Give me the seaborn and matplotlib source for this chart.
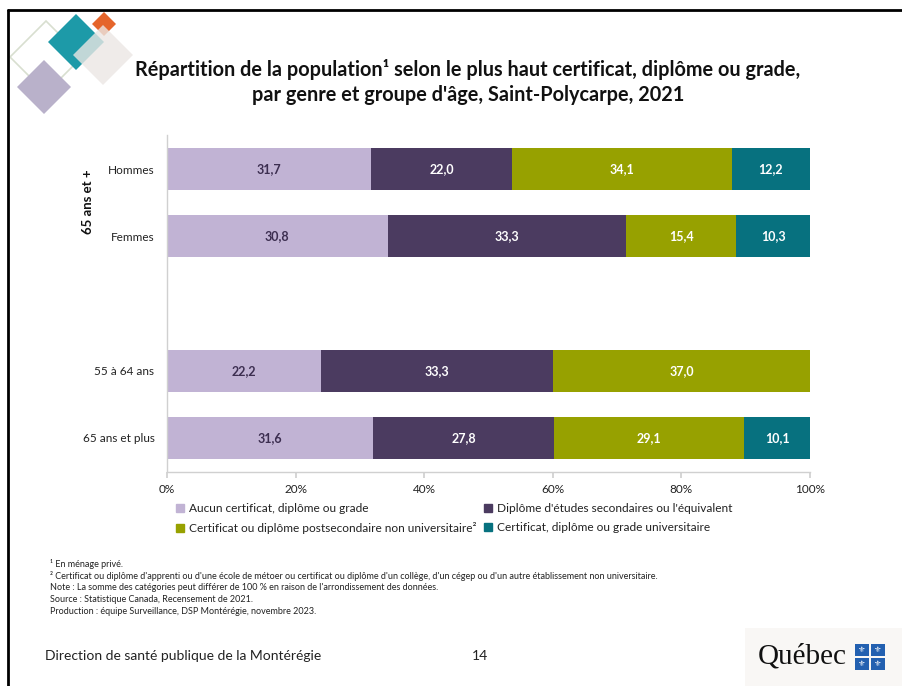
import matplotlib
matplotlib.use("Agg")
import matplotlib.pyplot as plt
import matplotlib.patches as mpatches
import numpy as np
import pandas as pd
import seaborn as sns

# ---- data ----
rows = ["Hommes", "Femmes", " ", "55 à 64 ans", "65 ans et plus"]
categories = [
    "Aucun certificat, diplôme ou grade",
    "Diplôme d'études secondaires ou l'équivalent",
    "Certificat ou diplôme postsecondaire non universitaire²",
    "Certificat, diplôme ou grade universitaire",
]
aucun = [31.7, 30.8, np.nan, 22.2, 31.6]
secondaire = [22.0, 33.3, np.nan, 33.3, 27.8]
postsec = [34.1, 15.4, np.nan, 37.0, 29.1]
universitaire = [12.2, 10.3, np.nan, np.nan, 10.1]
xticks = [0, 20, 40, 60, 80, 100]
xticklabels = ["0%", "20%", "40%", "60%", "80%", "100%"]

colors = ["#c1b3d4", "#4b3b60", "#97a100", "#07717f"]
label_colors = ["#3c2e50", "white", "white", "white"]

sns.set_theme(style="white")
plt.rcParams["font.family"] = ["Lato", "DejaVu Sans"]

fig = plt.figure(figsize=(9.02, 6.86), dpi=100)
W, H = 902, 686
ax = fig.add_axes([167 / W, 1 - 471.5 / H, 643 / W, 336 / H])

vals = np.array([aucun, secondaire, postsec, universitaire], dtype=float)  # cat x row
totals = np.nansum(vals, axis=0)
totals[totals == 0] = np.nan
pct = np.nan_to_num(vals) / totals * 100
cum = np.cumsum(pct, axis=0)

# draw layers from back (full cumulative) to front
for k in range(3, -1, -1):
    df = pd.DataFrame({"row": rows, "cum": cum[k]})
    df = df[~np.isnan(vals[k])]
    df = df[df["row"] != " "]
    sns.barplot(data=df, x="cum", y="row", order=rows, color=colors[k],
                width=0.63, orient="h", ax=ax, saturation=1, edgecolor="none")

# value labels
for k in range(4):
    for i, r in enumerate(rows):
        v = vals[k][i]
        if np.isnan(v):
            continue
        center = cum[k][i] - pct[k][i] / 2
        ax.text(center, i, f"{v:.1f}".replace(".", ","), ha="center", va="center",
                fontsize=9, fontweight="bold", color=label_colors[k])

ax.set_xlim(0, 100)
ax.set_ylim(len(rows) - 0.5, -0.5)
ax.set_xticks(xticks)
ax.set_xticklabels(xticklabels, fontsize=8.5, color="#222222")
ax.set_yticks(range(len(rows)))
ax.set_yticklabels(rows, fontsize=8.5, color="#222222")
ax.set_xlabel("")
ax.set_ylabel("")
for s in ["top", "right"]:
    ax.spines[s].set_visible(False)
for s in ["left", "bottom"]:
    ax.spines[s].set_color("#d0d0d0")
    ax.spines[s].set_linewidth(1)
ax.tick_params(axis="x", length=4, color="#d0d0d0", pad=5, bottom=True)
ax.tick_params(axis="y", length=0, pad=9)
ax.grid(False)

# group label
fig.text(88 / W, 1 - 202 / H, "65 ans et +", rotation=90, ha="center", va="center",
         fontsize=9.5, fontweight="bold", color="#111111")

# title
fig.text(468 / W, 1 - 70 / H,
         "Répartition de la population¹ selon le plus haut certificat, diplôme ou grade,",
         ha="center", va="center", fontsize=14.3, fontweight="bold", color="#111111")
fig.text(468 / W, 1 - 95 / H, "par genre et groupe d'âge, Saint-Polycarpe, 2021",
         ha="center", va="center", fontsize=14.3, fontweight="bold", color="#111111")

# legend (row-wise order)
handles = [mpatches.Patch(color=c) for c in colors]
order_idx = [0, 2, 1, 3]
leg = fig.legend([handles[i] for i in order_idx], [categories[i] for i in order_idx],
                 ncol=2, loc="upper left", bbox_to_anchor=(176 / W, 1 - 503 / H),
                 frameon=False, fontsize=8.6, handlelength=0.7, handleheight=0.7,
                 handletextpad=0.4, columnspacing=0.6, labelspacing=0.7,
                 borderaxespad=0, borderpad=0)
for t in leg.get_texts():
    t.set_color("#222222")

# footnotes
notes = [
    "¹ En ménage privé.",
    "² Certificat ou diplôme d'apprenti ou d'une école de métoer ou certificat ou diplôme d'un collège, d'un cégep ou d'un autre établissement non universitaire.",
    "Note : La somme des catégories peut différer de 100 % en raison de l'arrondissement des données.",
    "Source : Statistique Canada, Recensement de 2021.",
    "Production : équipe Surveillance, DSP Montérégie, novembre 2023.",
]
for j, t in enumerate(notes):
    fig.text(50 / W, 1 - (564 + j * 12) / H, t, ha="left", va="center",
             fontsize=6.5, color="#222222")

# footer
fig.text(45 / W, 1 - 656 / H, "Direction de santé publique de la Montérégie",
         ha="left", va="center", fontsize=10, color="#222222")
fig.text(480 / W, 1 - 656 / H, "14", ha="center", va="center", fontsize=10, color="#222222")

# Québec logo
fig.patches.append(mpatches.Rectangle((745 / W, 0), 157 / W, 58 / H, transform=fig.transFigure,
                                      facecolor="#f9f7f5", edgecolor="none", zorder=0))
fig.text(802 / W, 1 - 657 / H, "Québec", ha="center", va="center", fontsize=21,
         family=["Liberation Serif", "DejaVu Serif"], color="#111111")
for (cx, cy) in [(862, 650), (878, 650), (862, 664), (878, 664)]:
    fig.patches.append(mpatches.Rectangle(((cx - 7) / W, 1 - (cy + 6) / H), 14 / W, 12 / H,
                                          transform=fig.transFigure, facecolor="#2360b0",
                                          edgecolor="none", zorder=2))
    fig.text(cx / W, 1 - cy / H, "⚜", ha="center", va="center", fontsize=6,
             color="white", zorder=3, family=["DejaVu Sans"])

# decorative diamonds (top-left)
def diamond(cx, cy, r, fc, ec="none", alpha=1.0, lw=1.0, z=1):
    pts = [((cx) / W, 1 - (cy - r) / H), ((cx + r) / W, 1 - cy / H),
           (cx / W, 1 - (cy + r) / H), ((cx - r) / W, 1 - cy / H)]
    fig.patches.append(mpatches.Polygon(pts, closed=True, transform=fig.transFigure,
                                        facecolor=fc, edgecolor=ec, alpha=alpha,
                                        linewidth=lw, zorder=z))

diamond(46, 57, 36, "none", ec="#d8dfd0", lw=1.2, z=1)
diamond(44, 87, 27, "#b9b1ca", z=2)
diamond(76, 42, 28, "#1d9aa8", z=3)
diamond(104, 24, 12, "#e5652b", z=3)
diamond(103, 55, 30, "#ebe7e4", alpha=0.8, z=4)

# slide frame
fig.add_artist(plt.Line2D([8 / W, 8 / W], [0, 1 - 10 / H], transform=fig.transFigure,
                          color="black", linewidth=2))
fig.add_artist(plt.Line2D([8 / W, 1], [1 - 10 / H, 1 - 10 / H], transform=fig.transFigure,
                          color="black", linewidth=2))

fig.savefig("out.png", dpi=100)
